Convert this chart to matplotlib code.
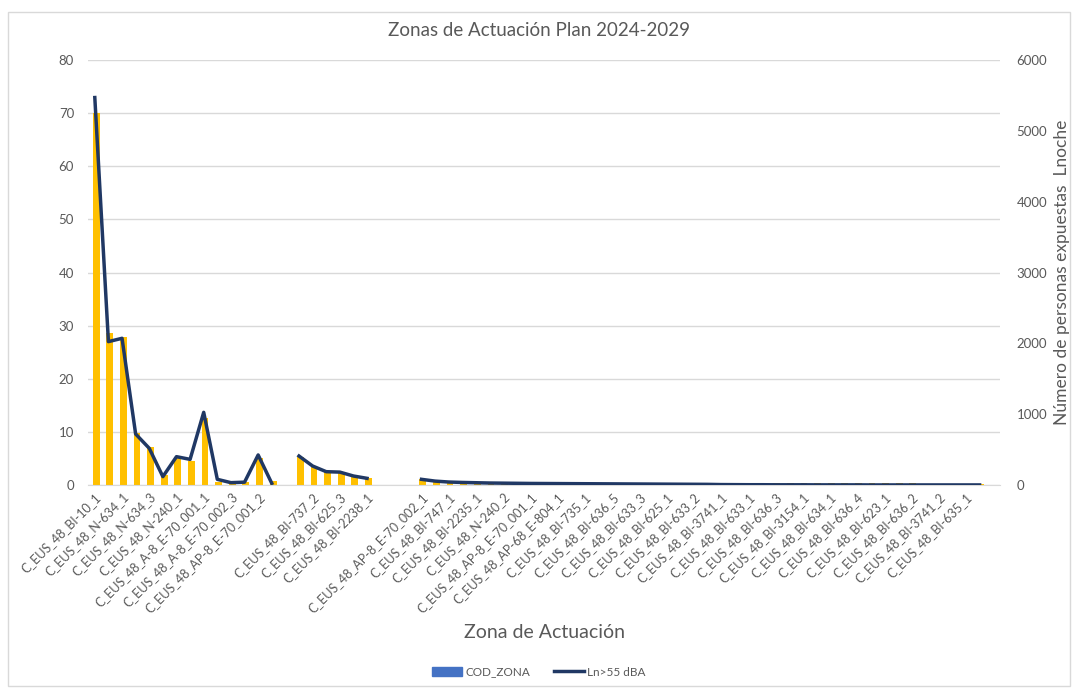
import numpy as np
import matplotlib
matplotlib.use("Agg")
import matplotlib.pyplot as plt
from matplotlib.lines import Line2D
from matplotlib.patches import Patch, Rectangle

plt.rcParams["font.family"] = ["Lato", "DejaVu Sans"]

# even-position category labels (odd positions are hidden by the axis)
tick_labels = [
    "C_EUS_48_BI-10_1", "C_EUS_48_N-634_1", "C_EUS_48_N-634_3", "C_EUS_48_N-240_1",
    "C_EUS_48_A-8_E-70_001_1", "C_EUS_48_A-8_E-70_002_3", "C_EUS_48_AP-8_E-70_001_2", "",
    "C_EUS_48_BI-737_2", "C_EUS_48_BI-625_3", "C_EUS_48_BI-2238_1", "",
    "C_EUS_48_AP-8_E-70_002_1", "C_EUS_48_BI-747_1", "C_EUS_48_BI-2235_1", "C_EUS_48_N-240_2",
    "C_EUS_48_AP-8_E-70_001_1", "C_EUS_48_AP-68_E-804_1", "C_EUS_48_BI-735_1", "C_EUS_48_BI-636_5",
    "C_EUS_48_BI-633_3", "C_EUS_48_BI-625_1", "C_EUS_48_BI-633_2", "C_EUS_48_BI-3741_1",
    "C_EUS_48_BI-633_1", "C_EUS_48_BI-636_3", "C_EUS_48_BI-3154_1", "C_EUS_48_BI-634_1",
    "C_EUS_48_BI-636_4", "C_EUS_48_BI-623_1", "C_EUS_48_BI-636_2", "C_EUS_48_BI-3741_2",
    "C_EUS_48_BI-635_1", "",
]

nan = np.nan
# bars, left axis
cod_zona = [
    70.0, 28.6, 27.9, 9.8, 7.2, 1.9, 5.3, 4.6, 12.6, 0.6,
    0.1, 0.6, 5.0, 0.75, nan, 5.2, 3.3, 2.5, 2.4, 1.6,
    1.4, nan, nan, nan, 1.1, 0.8, 0.3, 0.3, 0.3, 0.3,
    0.3, 0.3, 0.3, 0.3, 0.3, 0.3, 0.3, 0.3, 0.3, 0.3,
    0.3, 0.3, 0.3, 0.3, 0.3, 0.3, 0.4, 0.3, 0.4, 0.4,
    0.4, 0.4, 0.4, 0.4, 0.4, 0.4, 0.4, 0.4, 0.4, 0.4,
    0.4, 0.1, 0.1, 0.1, 0.1, 0.1, nan,
]
# line, right axis
ln55 = [
    5470, 2024, 2071, 720, 518, 118, 400, 362, 1026, 80,
    33, 40, 424, 24, nan, 409, 268, 188, 182, 127,
    94, nan, nan, nan, 80, 55, 42, 36, 32, 28,
    26, 24, 22, 21, 20, 19, 18, 17, 16, 15,
    14, 13, 12, 11, 10, 9, 6, 5, 4, 4,
    3, 3, 3, 2, 2, 2, 2, 1, 1, 1,
    1, 1, 1, 1, 1, 1, nan,
]

gray = "#595959"
x = np.arange(len(cod_zona))

fig = plt.figure(figsize=(10.78, 6.90), dpi=100)
fig.patches.append(Rectangle((8 / 1078, 4 / 690), 1062 / 1078, 674 / 690, transform=fig.transFigure,
                             fill=False, edgecolor="#D9D9D9", linewidth=1))
ax = fig.add_axes([88 / 1078, (690 - 485) / 690, 912 / 1078, 425 / 690])
ax.bar(x + 0.1, cod_zona, width=0.5, color="#FFC000", zorder=2)
ax.set_xlim(-0.5, len(x) - 0.5)
ax.set_ylim(0, 80)
ax.set_yticks(range(0, 81, 10))
ax.grid(axis="y", color="#D9D9D9", linewidth=1, zorder=0)
ax.set_xticks(x[::2])
ax.set_xticklabels(tick_labels, rotation=45, ha="right", va="top", rotation_mode="anchor",
                   fontsize=9, color=gray)
ax.tick_params(axis="y", length=0, pad=10, labelsize=9.5, labelcolor=gray)
ax.tick_params(axis="x", length=0, pad=4)
for s in ["top", "left", "right"]:
    ax.spines[s].set_visible(False)
ax.spines["bottom"].set_color("#D9D9D9")
ax.set_xlabel("Zona de Actuación", fontsize=14, color=gray, labelpad=7)

ax2 = ax.twinx()
ax2.plot(x, ln55, color="#203864", linewidth=2.5, zorder=3)
ax2.set_ylim(0, 6000)
ax2.set_yticks(range(0, 6001, 1000))
ax2.tick_params(axis="y", length=0, pad=12, labelsize=9.5, labelcolor=gray)
for s in ax2.spines.values():
    s.set_visible(False)
ax2.set_ylabel("Número de personas expuestas  Lnoche", fontsize=12.5, color=gray, labelpad=5)

fig.text(0.5, 1 - 30 / 690, "Zonas de Actuación Plan 2024-2029", ha="center", va="center",
         fontsize=13.5, color=gray)

handles = [Patch(color="#4472C4"), Line2D([0], [0], color="#203864", linewidth=2.5)]
fig.legend(handles, ["COD_ZONA", "Ln>55 dBA"], loc="center", bbox_to_anchor=(0.5, 1 - 672 / 690),
           ncol=2, frameon=False, fontsize=8.5, labelcolor=gray, handlelength=2.5, columnspacing=2.0,
           handletextpad=0.3)

fig.savefig("out.png", dpi=100)
